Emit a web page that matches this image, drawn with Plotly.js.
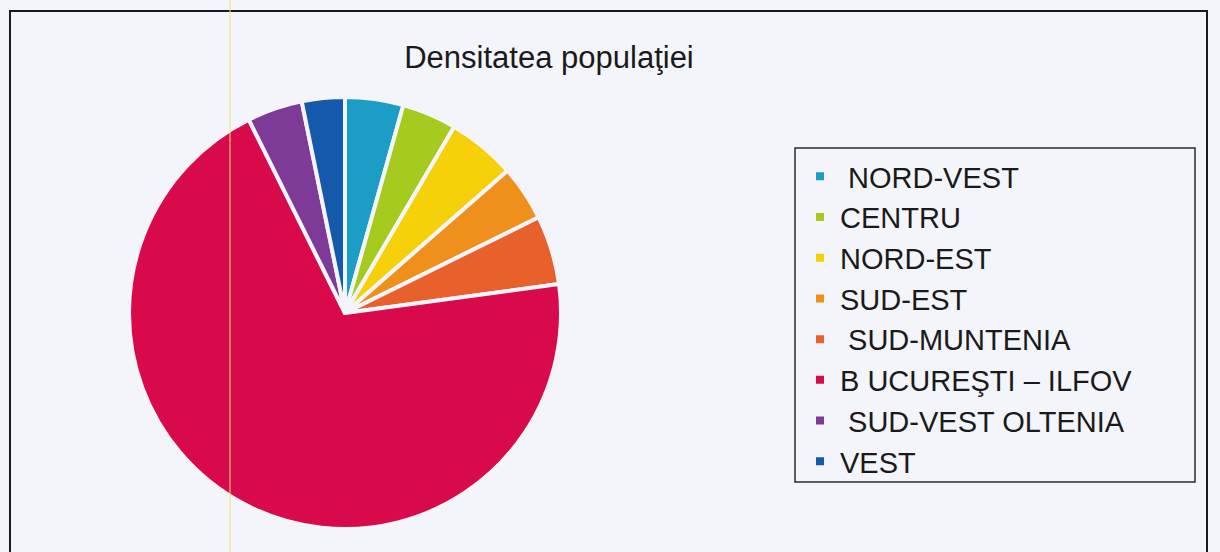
<!DOCTYPE html>
<html>
<head>
<meta charset="utf-8">
<script src="https://cdn.plot.ly/plotly-3.0.1.min.js"></script>
<style>
  html, body { margin: 0; padding: 0; background: #f4f5fb; }
  #chart { width: 1220px; height: 552px; }
</style>
</head>
<body>
<div id="chart"></div>
<script>
// regiuni de dezvoltare, in ordinea din legenda
const regions = [
  "\u00a0NORD-VEST",
  "CENTRU",
  "NORD-EST",
  "SUD-EST",
  "\u00a0SUD-MUNTENIA",
  "B\u00a0UCUREŞTI – ILFOV",
  "\u00a0SUD-VEST OLTENIA",
  "VEST",
];
// densitatea (loc/km²), citita din unghiurile feliilor
const density = [80, 75, 94, 76, 95, 1282, 76, 59];
const colors = [
  "#1b9dc6", "#a6ca1e", "#f6d10a", "#f0901c",
  "#e8612c", "#d80a4c", "#7d3b97", "#1559aa",
];

const W = 1220, H = 552;
const px = (x) => x / W;
const py = (y) => 1 - y / H;

const cx = 345, cy = 313, r = 216;

const trace = {
  type: "pie",
  labels: regions,
  values: density,
  sort: false,
  direction: "clockwise",
  rotation: 0,
  textinfo: "none",
  hoverinfo: "label+value",
  marker: { colors: colors, line: { color: "#f4f5fb", width: 4 } },
  domain: { x: [px(cx - r), px(cx + r)], y: [py(cy + r), py(cy - r)] },
};

const layout = {
  width: W,
  height: H,
  margin: { l: 0, r: 0, t: 0, b: 0 },
  paper_bgcolor: "#f4f5fb",
  font: { family: "'Liberation Sans', Arial, sans-serif", color: "#1a1a1a" },
  title: {
    text: "Densitatea populaţiei",
    font: { size: 31, color: "#1a1a1a" },
    x: px(549), xanchor: "center",
    y: py(57), yanchor: "middle",
    xref: "paper", yref: "paper",
  },
  showlegend: true,
  legend: {
    xref: "paper", yref: "paper",
    x: px(800), xanchor: "left",
    y: py(151), yanchor: "top",
    bgcolor: "rgba(0,0,0,0)",
    borderwidth: 0,
    font: { size: 29, color: "#1a1a1a" },
    itemclick: false,
  },
  shapes: [
    // cadrul exterior
    { type: "rect", xref: "paper", yref: "paper",
      x0: px(10), x1: px(1207), y0: py(575), y1: py(11),
      line: { color: "#1a1a1a", width: 2 } },
    // linia galbena din scanare
    { type: "line", xref: "paper", yref: "paper",
      x0: px(230), x1: px(230), y0: 0, y1: 1,
      line: { color: "#f2e27a", width: 1 } },
    // chenarul legendei
    { type: "rect", xref: "paper", yref: "paper",
      x0: px(795), x1: px(1195), y0: py(482), y1: py(148),
      line: { color: "#2a2a2a", width: 1.5 } },
  ],
};

Plotly.newPlot("chart", [trace], layout, { displayModeBar: false, staticPlot: true });
</script>
</body>
</html>
